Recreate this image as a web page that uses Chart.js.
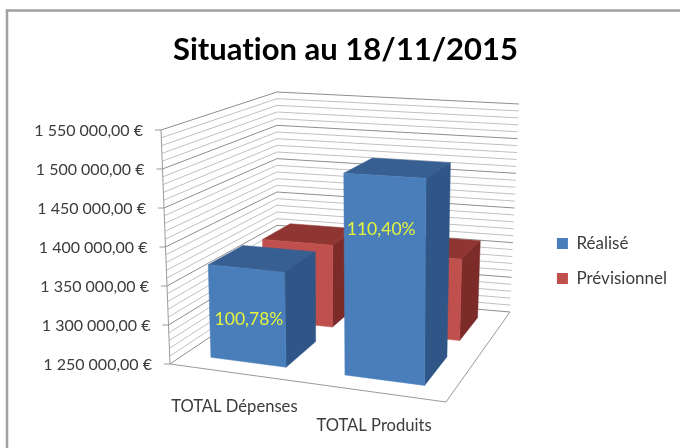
<!DOCTYPE html>
<html>
<head>
<meta charset="utf-8">
<title>Situation au 18/11/2015</title>
<script src="https://cdn.jsdelivr.net/npm/chart.js@4"></script>
<style>
  html, body { margin: 0; padding: 0; background: #fff; }
  #wrap { position: absolute; left: 0; top: 0; width: 680px; height: 448px; }
  #chart { filter: blur(0.4px); }
</style>
</head>
<body>
<div id="wrap"><canvas id="chart" width="680" height="448"></canvas></div>
<script>
'use strict';
// data
var categories = ['TOTAL Dépenses', 'TOTAL Produits'];
var realise = [1370000, 1500000];
var previsionnel = [1363000, 1359000];
var pourcentages = ['100,78%', '110,40%'];
var yMin = 1250000;
var yMax = 1550000;
var majorStep = 50000;
var minorStep = 10000;

// box corners on screen: [x, y]
var corners = {
    flb: [170, 364], flt: [161, 130],
    blb: [277, 292], blt: [277, 92],
    brb: [510, 312], brt: [519, 104],
    frb: [446, 402], frt: [448, 144]
};
// depth range of each series inside the box
var depths = [[0.14, 0.465], [0.65, 0.91]];
var shades = [
    { front: '#4a7ebb', top: '#385f92', side: '#2f5687' },
    { front: '#c0504d', top: '#903632', side: '#7c2b29' }
];
// where the percentage label sits on the front of each blue bar
var labelHeights = [0.46, 0.74];
var labelShifts = [2, -3.5];
var textFont = 'Lato, "Open Sans", sans-serif';

// trilinear mapping of the box
function mix(a, b, t) {
    return [a[0] + (b[0] - a[0]) * t, a[1] + (b[1] - a[1]) * t];
}
function project(u, d, v) {
    var bottom = mix(mix(corners.flb, corners.frb, u), mix(corners.blb, corners.brb, u), d);
    var top = mix(mix(corners.flt, corners.frt, u), mix(corners.blt, corners.brt, u), d);
    return mix(bottom, top, v);
}
function poly(ctx, points, fill, stroke) {
    ctx.beginPath();
    ctx.moveTo(points[0][0], points[0][1]);
    for (var i = 1; i < points.length; i++) {
        ctx.lineTo(points[i][0], points[i][1]);
    }
    if (fill) {
        ctx.closePath();
        ctx.fillStyle = fill;
        ctx.fill();
    }
    if (stroke) {
        ctx.strokeStyle = stroke;
        ctx.stroke();
    }
}

var box3d = {
    id: 'box3d',
    beforeDraw: function (chart) {
        // no "ti" ligature, Calibri has none here
        chart.ctx.textRendering = 'optimizeSpeed';
    },
    beforeDatasetsDraw: function (chart) {
        var ctx = chart.ctx;
        var area = chart.chartArea;
        var yScale = chart.scales.y;
        var xScale = chart.scales.x;
        function toU(px) {
            // front of the box is foreshortened a little
            return Math.pow((px - area.left) / area.width, 1.05);
        }
        function toV(py) {
            return (area.bottom - py) / area.height;
        }
        ctx.save();

        // frame: only its top and left sides are in the picture
        ctx.lineWidth = 2.5;
        poly(ctx, [[7, 448], [7, 10.5], [680, 10.5]], null, '#a0a0a0');

        // wall lines every minor step
        ctx.lineWidth = 1;
        for (var val = yMin; val <= yMax; val += minorStep) {
            var v = toV(yScale.getPixelForValue(val));
            var major = (val - yMin) % majorStep === 0;
            poly(ctx, [project(0, 0, v), project(0, 1, v), project(1, 1, v)], null, major ? '#8e8e8e' : '#c0c0c0');
        }
        // floor
        poly(ctx, [project(0, 0, 0), project(1, 0, 0), project(1, 1, 0)], null, '#9a9a9a');
        // axis and its tick marks with labels
        poly(ctx, [project(0, 0, 0), project(0, 0, 1)], null, '#9a9a9a');
        ctx.font = '16px ' + textFont;
        ctx.fillStyle = '#3c3c3c';
        ctx.textAlign = 'right';
        ctx.textBaseline = 'middle';
        yScale.ticks.forEach(function (tick) {
            var p = project(0, 0, toV(yScale.getPixelForValue(tick.value)));
            poly(ctx, [[p[0] - 6, p[1]], p], null, '#9a9a9a');
            ctx.fillText(tick.label, p[0] - 18, p[1] + 1);
        });

        // back series first
        for (var s = chart.data.datasets.length - 1; s >= 0; s--) {
            var meta = chart.getDatasetMeta(s);
            for (var i = 0; i < meta.data.length; i++) {
                var bar = meta.data[i];
                var u0 = toU(bar.x - bar.width / 2);
                var u1 = toU(bar.x + bar.width / 2);
                var vt = toV(bar.y);
                var d0 = depths[s][0];
                var d1 = depths[s][1];
                ctx.lineWidth = 0.5;
                poly(ctx, [project(u0, d0, vt), project(u1, d0, vt), project(u1, d1, vt), project(u0, d1, vt)], shades[s].top, shades[s].top);
                poly(ctx, [project(u1, d0, 0), project(u1, d0, vt), project(u1, d1, vt), project(u1, d1, 0)], shades[s].side, shades[s].side);
                poly(ctx, [project(u0, d0, 0), project(u1, d0, 0), project(u1, d0, vt), project(u0, d0, vt)], shades[s].front, shades[s].front);
            }
        }

        // percentage labels on the blue bars
        var blue = chart.getDatasetMeta(0);
        ctx.font = '17.5px ' + textFont;
        ctx.fillStyle = '#e4f53c';
        ctx.textAlign = 'center';
        blue.data.forEach(function (bar, n) {
            var p = project(toU(bar.x), depths[0][0], toV(bar.y) * labelHeights[n]);
            ctx.fillText(pourcentages[n], p[0] + labelShifts[n], p[1]);
        });

        // category names under the front edge
        ctx.font = '16.6px ' + textFont;
        ctx.fillStyle = '#3c3c3c';
        categories.forEach(function (name, n) {
            var p = project(toU(xScale.getPixelForValue(n)), 0, 0);
            ctx.fillText(name, p[0], p[1] + 34);
        });
        ctx.restore();
        return false;
    }
};

var chart = new Chart(document.getElementById('chart'), {
    type: 'bar',
    data: {
        labels: categories,
        datasets: [
            { label: 'Réalisé', data: realise, backgroundColor: '#4a7ebb' },
            { label: 'Prévisionnel', data: previsionnel, backgroundColor: '#c0504d' }
        ]
    },
    options: {
        responsive: false,
        animation: false,
        categoryPercentage: 1,
        barPercentage: 0.57,
        layout: { padding: { left: 14, right: 3, bottom: 4 } },
        scales: {
            x: { display: false, stacked: true },
            y: {
                display: false,
                min: yMin,
                max: yMax,
                ticks: {
                    stepSize: majorStep,
                    callback: function (value) {
                        return String(value).replace(/\B(?=(\d{3})+$)/g, ' ') + ',00 €';
                    }
                }
            }
        },
        plugins: {
            tooltip: { enabled: false },
            title: {
                display: true,
                text: 'Situation au 18/11/2015',
                color: '#000',
                font: { family: textFont, size: 31, weight: 'bold' },
                padding: { top: 31, bottom: 10 }
            },
            legend: {
                position: 'right',
                fullSize: false,
                labels: {
                    boxWidth: 11,
                    boxHeight: 11,
                    color: '#3c3c3c',
                    padding: 18,
                    font: { family: textFont, size: 17 }
                }
            }
        }
    },
    plugins: [box3d]
});
</script>
</body>
</html>
